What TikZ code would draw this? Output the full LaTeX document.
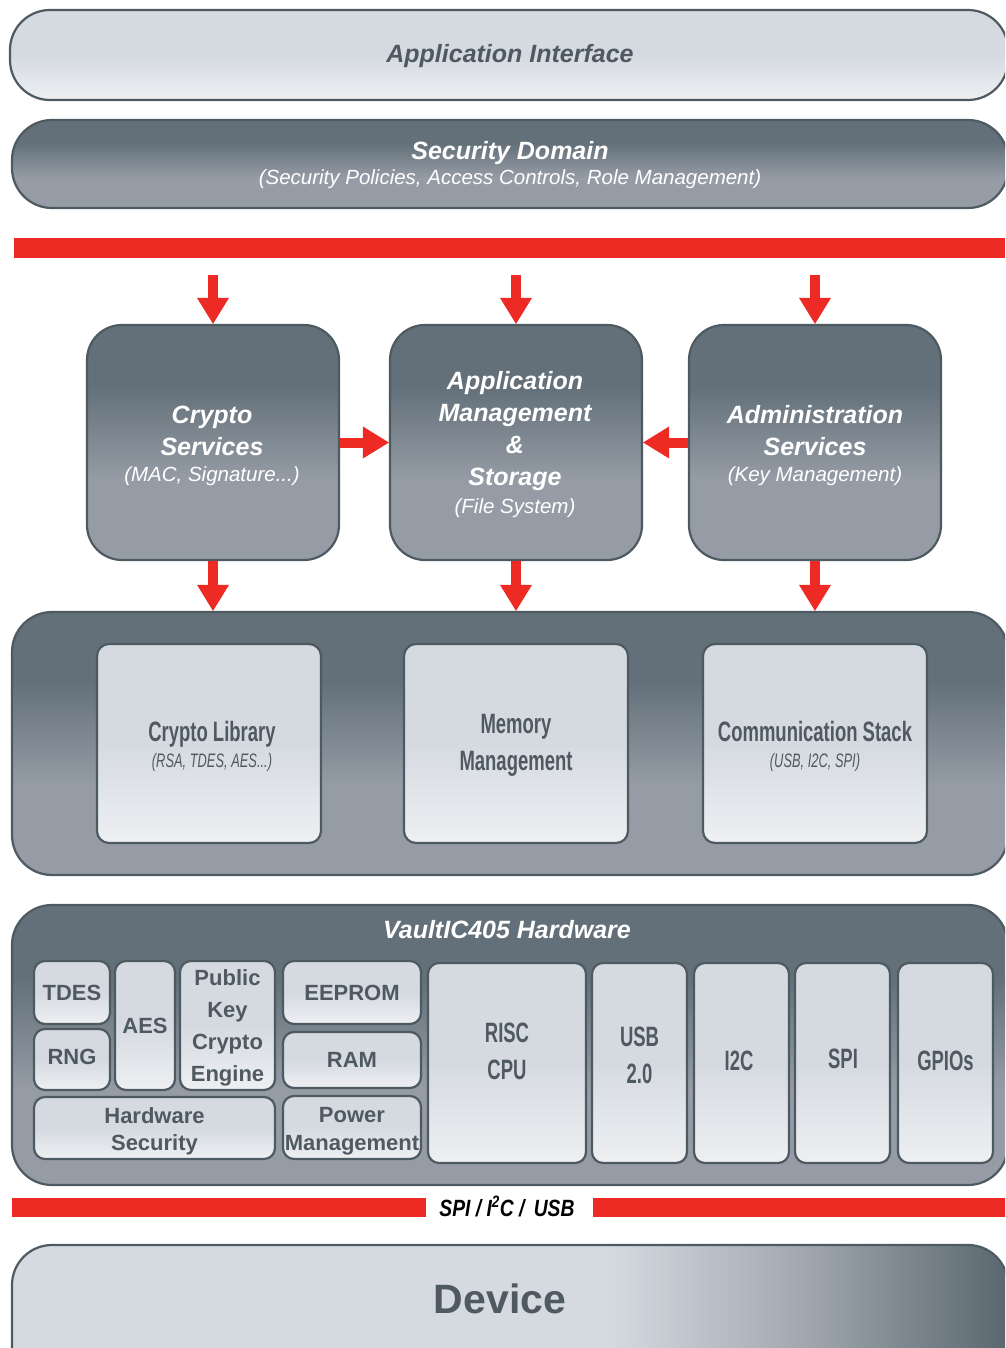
\documentclass[tikz,border=0pt]{standalone}
\usepackage{fontspec}
\setmainfont{Liberation Sans}
\newfontfamily\narrowf{Liberation Sans}[FakeStretch=0.66]
\newfontfamily\semif{Liberation Sans}[FakeStretch=0.82]
\usetikzlibrary{arrows.meta,positioning}
\definecolor{edgegray}{HTML}{4E5A61}
\definecolor{txtgray}{HTML}{4F5A60}
\definecolor{dktop}{HTML}{637079}
\definecolor{dkbot}{HTML}{959CA6}
\definecolor{lttop}{HTML}{D5DAE1}
\definecolor{ltbot}{HTML}{EEF0F2}
\definecolor{devmid}{HTML}{A3A9B0}
\definecolor{devdark}{HTML}{5A676F}
\definecolor{arrred}{HTML}{EE2A24}
\pgfdeclareverticalshading{darkshade}{100bp}{color(0bp)=(dkbot); color(25bp)=(dkbot); color(42bp)=(dkbot); color(62bp)=(dktop); color(75bp)=(dktop); color(100bp)=(dktop)}
\pgfdeclareverticalshading{lightshade}{100bp}{color(0bp)=(ltbot); color(25bp)=(ltbot); color(50bp)=(lttop); color(75bp)=(lttop); color(100bp)=(lttop)}
\pgfdeclarehorizontalshading{deviceshade}{100bp}{color(0bp)=(lttop); color(25bp)=(lttop); color(55bp)=(lttop); color(64.5bp)=(devmid); color(75bp)=(devdark); color(100bp)=(devdark)}
\tikzset{
  lightlayer/.style={draw=edgegray, line width=2.2pt, rounded corners=40pt, shade, shading=lightshade},
  darklayer/.style={draw=edgegray, line width=2.2pt, rounded corners=40pt, shade, shading=darkshade},
  servbox/.style={darklayer, rounded corners=35pt},
  libbox/.style={draw=edgegray, line width=2.2pt, rounded corners=12pt, shade, shading=lightshade},
  hwbox/.style={libbox, rounded corners=11pt, inner sep=0pt, align=center, text=txtgray,
    font=\bfseries\fontsize{22}{27}\selectfont},
  narrowbox/.style={hwbox, font=\narrowf\bfseries\fontsize{28}{37}\selectfont},
  redbar/.style={fill=arrred, inner sep=0pt},
  fatarrow/.style={draw=arrred, line width=10pt, -{Triangle[width=32pt,length=26pt,line width=0pt]}},
  whitetitle/.style={text=white, align=center, font=\bfseries\itshape\fontsize{25}{32}\selectfont},
  whitesub/.style={text=white, anchor=base, font=\itshape\fontsize{20.5}{25}\selectfont},
  narrowtitle/.style={text=txtgray, align=center, font=\narrowf\bfseries\fontsize{28}{37}\selectfont},
  narrowsub/.style={text=txtgray, anchor=base, font=\narrowf\itshape\fontsize{19.5}{24}\selectfont},
  hwtxt/.style={text=txtgray, align=center, font=\bfseries\fontsize{22}{27}\selectfont}
}
\begin{document}
\begin{tikzpicture}[x=1pt,y=-1pt]
\useasboundingbox (0,0) rectangle (1005,1348);
\clip (0,0) rectangle (1005,1348);

\node[lightlayer, minimum width=998pt, minimum height=90pt] (appif) at (509,55) {};
\node[text=txtgray, anchor=base, font=\bfseries\itshape\fontsize{25}{30}\selectfont] (appiftxt) at (510,63) {Application Interface};

\node[darklayer, minimum width=996pt, minimum height=88pt] (secdom) at (510,164) {};
\node[whitetitle, anchor=base] (secdomtxt) at (510,160) {Security Domain};
\node[whitesub] (secdomsub) at (510,185) {(Security Policies, Access Controls, Role Management)};

\node[redbar, minimum width=991pt, minimum height=20pt] (topbar) at (509.5,248) {};

\node[servbox, minimum width=252pt, minimum height=235pt] (crypto) at (213,442.5) {};
\node[servbox, minimum width=252pt, minimum height=235pt] (appmgmt) at (516,442.5) {};
\node[servbox, minimum width=252pt, minimum height=235pt] (admin) at (815,442.5) {};
\node[whitetitle] (cryptotxt) at (212,430.5) {Crypto\\Services};
\node[whitesub] (cryptosub) at (212,481) {(MAC, Signature...)};
\node[whitetitle] (appmgmttxt) at (515,431.5) {Application\\Management\\\&\\Storage};
\node[whitesub] (appmgmtsub) at (515,513) {(File System)};
\node[whitetitle] (admintxt) at (815,430.5) {Administration\\Services};
\node[whitesub] (adminsub) at (815,481) {(Key Management)};

\node[darklayer, minimum width=996pt, minimum height=263pt] (midlayer) at (510,743.5) {};
\node[libbox, minimum width=224pt, minimum height=199pt] (cryptolib) at (209,743.5) {};
\node[libbox, minimum width=224pt, minimum height=199pt] (memmgmt) at (516,743.5) {};
\node[libbox, minimum width=224pt, minimum height=199pt] (commstack) at (815,743.5) {};
\node[narrowtitle, anchor=base] (cryptolibtxt) at (212,741) {Crypto Library};
\node[narrowsub] (cryptolibsub) at (212,767) {(RSA, TDES, AES...)};
\node[narrowtitle] (memmgmttxt) at (516,745.5) {Memory\\Management};
\node[narrowtitle, anchor=base] (commstacktxt) at (815,741) {Communication Stack};
\node[narrowsub] (commstacksub) at (815,767) {(USB, I2C, SPI)};

\node[darklayer, minimum width=996pt, minimum height=280pt] (hwlayer) at (510,1045) {};
\node[whitetitle, anchor=base] (hwtxt) at (507,938) {VaultIC405 Hardware};
\node[hwbox, minimum width=76pt, minimum height=63pt] (tdes) at (72,992.5) {TDES};
\node[hwbox, minimum width=76pt, minimum height=61pt] (rng) at (72,1059.5) {};
\node[hwbox, minimum width=60pt, minimum height=129pt] (aes) at (145,1025.5) {AES};
\node[hwbox, minimum width=95pt, minimum height=129pt] (pkc) at (227.5,1025.5) {};
\node[hwbox, minimum width=138pt, minimum height=63pt] (eeprom) at (352,992.5) {EEPROM};
\node[hwbox, minimum width=138pt, minimum height=56pt] (ram) at (352,1060) {RAM};
\node[hwbox, minimum width=241pt, minimum height=62pt] (hwsec) at (154.5,1128) {};
\node[hwbox, minimum width=138pt, minimum height=63pt] (power) at (352,1127.5) {};
\node[hwtxt] (rngtxt) at (72,1056.5) {RNG};
\node[hwtxt, font=\bfseries\fontsize{22}{32}\selectfont] (pkctxt) at (227.5,1027.5) {Public\\Key\\Crypto\\Engine};
\node[hwtxt] (hwsectxt) at (154.5,1131) {Hardware\\Security};
\node[hwtxt, font=\bfseries\fontsize{22}{28}\selectfont] (powertxt) at (352,1131) {Power\\Management};
\node[hwbox, minimum width=158pt, minimum height=200pt] (risc) at (507,1063) {};
\node[hwbox, minimum width=95pt, minimum height=200pt] (usb) at (639.5,1063) {};
\node[narrowbox, minimum width=95pt, minimum height=200pt] (i2c) at (741.5,1063) {};
\node[narrowbox, minimum width=95pt, minimum height=200pt] (spi) at (842.5,1063) {};
\node[narrowbox, minimum width=95pt, minimum height=200pt] (gpio) at (945.5,1063) {};
\node[narrowtitle] (risctxt) at (507,1051) {RISC\\CPU};
\node[narrowtitle] (usbtxt) at (639.5,1055) {USB\\2.0};
\node[narrowtitle] (i2ctxt) at (739,1061) {I2C};
\node[narrowtitle] (spitxt) at (843,1059) {SPI};
\node[narrowtitle] (gpiotxt) at (945.5,1061) {GPIOs};

\node[redbar, minimum width=414pt, minimum height=19pt] (busl) at (219,1207.5) {};
\node[redbar, minimum width=417pt, minimum height=19pt] (busr) at (801.5,1207.5) {};
\node[anchor=base, font=\semif\bfseries\itshape\fontsize{23.5}{28}\selectfont] (bustxt) at (507,1216.5) {SPI / I\textsuperscript{2}C / \,USB};

\node[draw=edgegray, line width=2.2pt, rounded corners=40pt, shade, shading=deviceshade, minimum width=996pt, minimum height=145pt] (device) at (510,1317.5) {};
\node[text=txtgray, anchor=base, font=\bfseries\fontsize{41}{48}\selectfont] (devicetxt) at (500,1313) {Device};

\foreach \nm in {crypto,appmgmt,admin}{
  \draw[fatarrow, shorten <=17pt] (topbar.south -| \nm.north) -- (\nm.north);
  \draw[fatarrow] (\nm.south) -- (\nm.south |- midlayer.north);
}
\draw[fatarrow] (crypto.east) -- (appmgmt.west);
\draw[fatarrow] (admin.west) -- (appmgmt.east);
\end{tikzpicture}
\end{document}
